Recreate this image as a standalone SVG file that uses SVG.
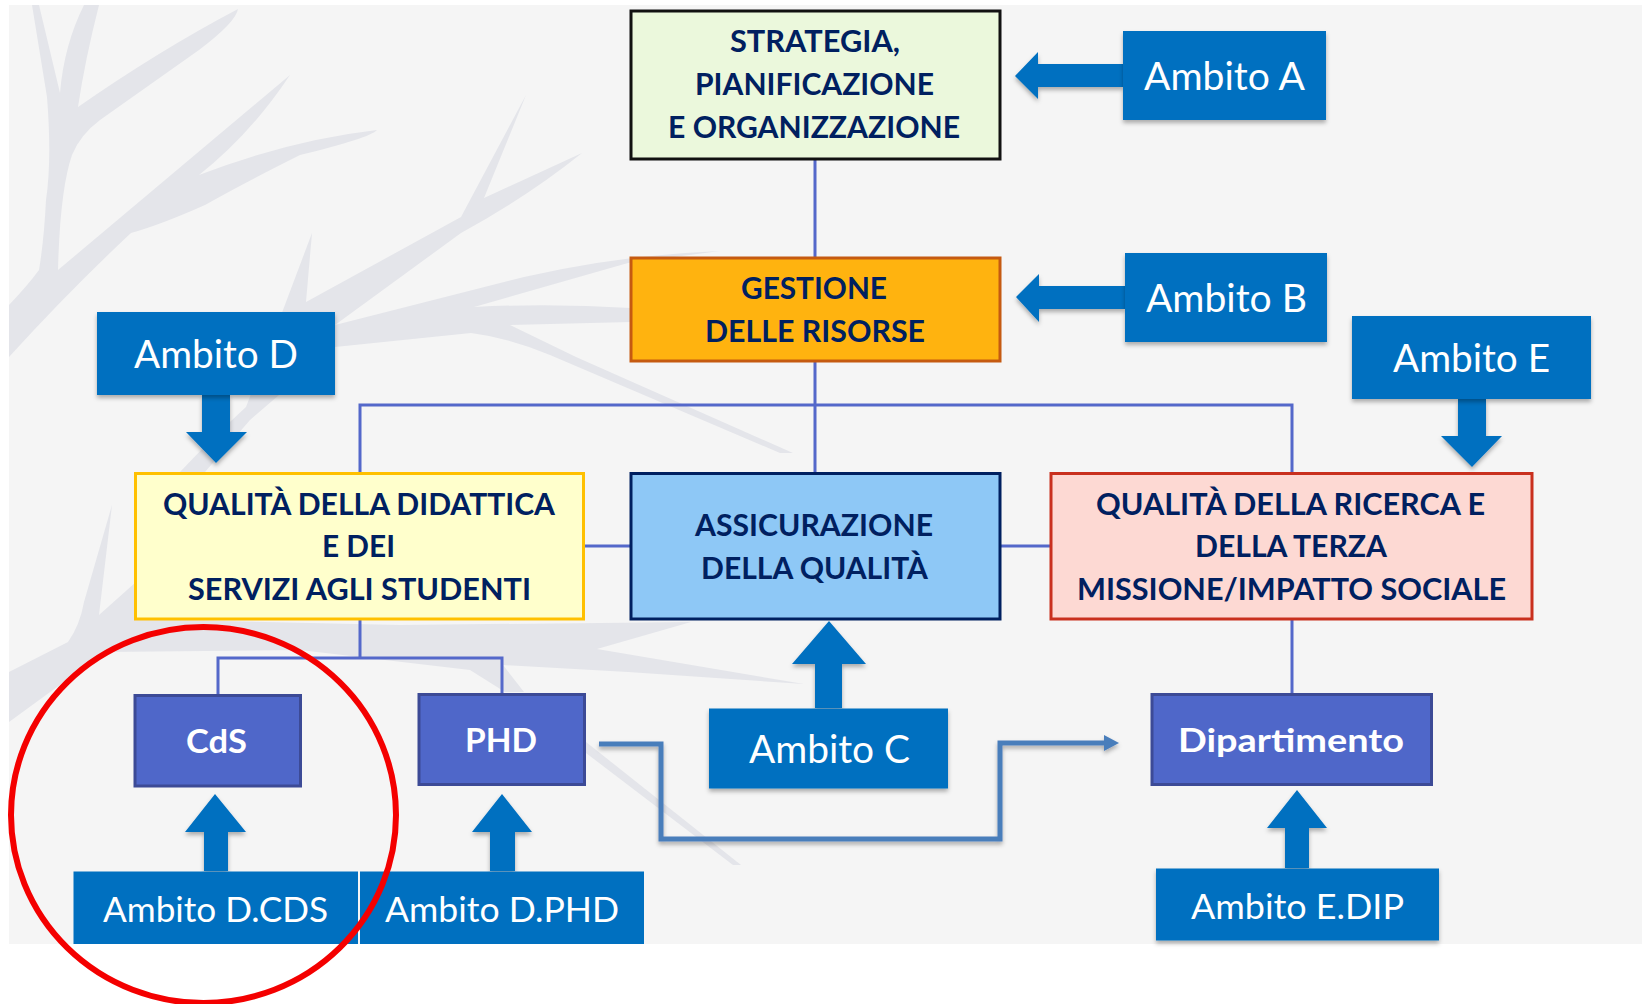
<svg xmlns="http://www.w3.org/2000/svg" width="1642" height="1004" viewBox="0 0 1642 1004">
  <style>
    text { font-family: "Lato", "Carlito", "Open Sans", sans-serif; }
    .t { font-weight: 700; font-size: 30px; fill: #002060; }
    .u { font-weight: 700; font-size: 33px; fill: #ffffff; }
    .a { font-size: 38px; fill: #ffffff; }
    .s { font-size: 35px; fill: #ffffff; }
    .amb { fill: #0070c0; filter: url(#soft); }
    .blk { fill: #0070c0; filter: url(#soft); }
    .unit { fill: #4f67c9; stroke: #3c4a96; stroke-width: 3; }
    .box { stroke-width: 3; }
    .ln { fill: none; stroke: #5468ca; stroke-width: 3; }
    .el { fill: none; stroke: #4a7ebb; stroke-width: 5; filter: url(#soft); }
    .tree { fill: #e4e5ea; }
  </style>
  <defs>
    <filter id="soft" x="-20%" y="-20%" width="140%" height="140%">
      <feDropShadow dx="0" dy="3" stdDeviation="2" flood-color="#000000" flood-opacity="0.3"/>
    </filter>
    <marker id="tip" markerUnits="userSpaceOnUse" markerWidth="16" markerHeight="18" refX="2" refY="9" orient="auto">
      <path d="M0 1 L15 9 L0 17 Z" fill="#4a7ebb"/>
    </marker>
  </defs>

  <rect width="1642" height="1004" fill="#ffffff"/>
  <rect x="9" y="5" width="1633" height="939" fill="#f5f5f5"/>

  <!-- bare branches behind the chart -->
  <g id="tree">
    <path class="tree" d="M9 305 Q28 285 39 270 Q44 240 46 200 Q52 160 47 97 L32 5 L39 5 L60 93 Q64 45 84 5 L99 5 Q85 60 78 107 Q160 50 238 9 Q236 22 199 50 L100 120 Q80 135 72 155 Q60 190 58 270 L290 75 Q250 135 199 175 Q290 140 377 130 Q370 138 300 155 Q240 185 205 205 Q160 225 131 233 Q70 290 9 357 Z"/>
    <path class="tree" d="M180 472 Q210 440 246 407 L283 310 L312 233 L306 302 L461 217 L526 95 L484 198 L582 153 Q530 195 461 233 L335 325 L524 277 Q620 255 720 251 L628 263 L474 307 Q550 303 631 308 L631 322 L510 325 L576 357 L793 453 L780 453 L550 355 Q510 338 471 333 L335 347 L250 420 L205 472 Z"/>
    <path class="tree" d="M9 672 L68 642 Q80 625 84 602 L112 505 L99 615 L136 582 L136 619 L400 625 L691 622 L597 649 L804 684 L628 672 L503 665 L524 692 L505 692 L470 670 L300 650 L105 652 L9 722 Z"/>
    <path class="tree" d="M586 742 L741 865 L733 865 L586 753 Z"/>
  </g>

  <g id="connectors">
    <path class="ln" d="M815 159 V472"/>
    <path class="ln" d="M360 472 V405 H1292 V472"/>
    <path class="ln" d="M584 546 H631"/>
    <path class="ln" d="M1000 546 H1050"/>
    <path class="ln" d="M360 619 V658"/>
    <path class="ln" d="M218 694 V658 H502 V693"/>
    <path class="ln" d="M1292 619 V693"/>
    <path class="el" d="M599 744 H661 V839 H1000 V743 H1106" marker-end="url(#tip)"/>
    <path class="blk" d="M1123 64 H1038 V52 L1015 76 L1038 99 V87 H1123 Z"/>
    <path class="blk" d="M1125 286 H1039 V274 L1016 297 L1039 322 V309 H1125 Z"/>
    <path class="blk" d="M202 395 V432 H186 L216 463 L247 432 H230 V395 Z"/>
    <path class="blk" d="M1458 399 V436 H1441 L1472 467 L1502 436 H1486 V399 Z"/>
    <path class="blk" d="M815 708 V664 H792 L829 621 L866 664 H842 V708 Z"/>
    <path class="blk" d="M204 871 V832 H185 L215 794 L246 832 H228 V871 Z"/>
    <path class="blk" d="M490 871 V832 H472 L502 794 L532 832 H515 V871 Z"/>
    <path class="blk" d="M1285 868 V828 H1267 L1297 790 L1327 828 H1309 V868 Z"/>
  </g>

  <g id="strategia">
    <rect class="box" x="631" y="11" width="369" height="148" fill="#ebf8dc" stroke="#111111"/>
    <text class="t" x="730" y="52" textLength="170" lengthAdjust="spacingAndGlyphs">STRATEGIA,</text>
    <text class="t" x="695" y="95" textLength="239" lengthAdjust="spacingAndGlyphs">PIANIFICAZIONE</text>
    <text class="t" x="668" y="138" textLength="292" lengthAdjust="spacingAndGlyphs">E ORGANIZZAZIONE</text>
  </g>
  <g id="gestione">
    <rect class="box" x="631" y="258" width="369" height="103" fill="#ffb30f" stroke="#c55a11"/>
    <text class="t" x="741" y="299" textLength="146" lengthAdjust="spacingAndGlyphs">GESTIONE</text>
    <text class="t" x="705" y="342" textLength="220" lengthAdjust="spacingAndGlyphs">DELLE RISORSE</text>
  </g>
  <g id="didattica">
    <rect class="box" x="135.5" y="473.5" width="448" height="145.5" fill="#ffffcc" stroke="#ffc000"/>
    <text class="t" x="163" y="514.5" textLength="392" lengthAdjust="spacingAndGlyphs">QUALITÀ DELLA DIDATTICA</text>
    <text class="t" x="322" y="557" textLength="73" lengthAdjust="spacingAndGlyphs">E DEI</text>
    <text class="t" x="188" y="600" textLength="343" lengthAdjust="spacingAndGlyphs">SERVIZI AGLI STUDENTI</text>
  </g>
  <g id="assicurazione">
    <rect class="box" x="631" y="473.5" width="369" height="145.5" fill="#8ec8f6" stroke="#002060"/>
    <text class="t" x="695" y="536" textLength="238" lengthAdjust="spacingAndGlyphs">ASSICURAZIONE</text>
    <text class="t" x="701" y="579" textLength="227" lengthAdjust="spacingAndGlyphs">DELLA QUALITÀ</text>
  </g>
  <g id="ricerca">
    <rect class="box" x="1051" y="473.5" width="481" height="145.5" fill="#fdd9d3" stroke="#c9301e"/>
    <text class="t" x="1096" y="514.5" textLength="389" lengthAdjust="spacingAndGlyphs">QUALITÀ DELLA RICERCA E</text>
    <text class="t" x="1195" y="557" textLength="192" lengthAdjust="spacingAndGlyphs">DELLA TERZA</text>
    <text class="t" x="1077" y="600" textLength="429" lengthAdjust="spacingAndGlyphs">MISSIONE/IMPATTO SOCIALE</text>
  </g>
  <g id="cds">
    <rect class="unit" x="135" y="695.5" width="165.5" height="90.5"/>
    <text class="u" x="186" y="753" textLength="61" lengthAdjust="spacingAndGlyphs">CdS</text>
  </g>
  <g id="phd">
    <rect class="unit" x="419" y="694.5" width="165.5" height="90"/>
    <text class="u" x="465" y="752" textLength="72" lengthAdjust="spacingAndGlyphs">PHD</text>
  </g>
  <g id="dipartimento">
    <rect class="unit" x="1152" y="694.5" width="279.5" height="90"/>
    <text class="u" x="1178" y="752" textLength="226" lengthAdjust="spacingAndGlyphs">Dipartimento</text>
  </g>
  <g id="ambito-a">
    <rect class="amb" x="1123" y="31" width="203" height="89"/>
    <text class="a" x="1144" y="90" textLength="161" lengthAdjust="spacingAndGlyphs">Ambito A</text>
  </g>
  <g id="ambito-b">
    <rect class="amb" x="1125" y="253" width="202" height="89"/>
    <text class="a" x="1146" y="312" textLength="161" lengthAdjust="spacingAndGlyphs">Ambito B</text>
  </g>
  <g id="ambito-c">
    <rect class="amb" x="709" y="708.5" width="239" height="80"/>
    <text class="a" x="749" y="763" textLength="161" lengthAdjust="spacingAndGlyphs">Ambito C</text>
  </g>
  <g id="ambito-d">
    <rect class="amb" x="97" y="312" width="238" height="83"/>
    <text class="a" x="134" y="368" textLength="164" lengthAdjust="spacingAndGlyphs">Ambito D</text>
  </g>
  <g id="ambito-e">
    <rect class="amb" x="1352" y="316" width="239" height="83"/>
    <text class="a" x="1393" y="372" textLength="157" lengthAdjust="spacingAndGlyphs">Ambito E</text>
  </g>
  <g id="ambito-d-cds">
    <rect x="73.5" y="871.5" width="284.5" height="72.5" fill="#0070c0"/>
    <text class="s" x="103" y="922" textLength="225" lengthAdjust="spacingAndGlyphs">Ambito D.CDS</text>
  </g>
  <g id="ambito-d-phd">
    <rect x="360" y="871.5" width="284" height="72.5" fill="#0070c0"/>
    <text class="s" x="385" y="922" textLength="234" lengthAdjust="spacingAndGlyphs">Ambito D.PHD</text>
  </g>
  <g id="ambito-e-dip">
    <rect class="amb" x="1156" y="868.5" width="283" height="72"/>
    <text class="s" x="1191" y="919" textLength="213" lengthAdjust="spacingAndGlyphs">Ambito E.DIP</text>
  </g>

  <ellipse id="evidenza" cx="203.5" cy="815" rx="192.5" ry="188" fill="none" stroke="#f40000" stroke-width="6"/>
</svg>
